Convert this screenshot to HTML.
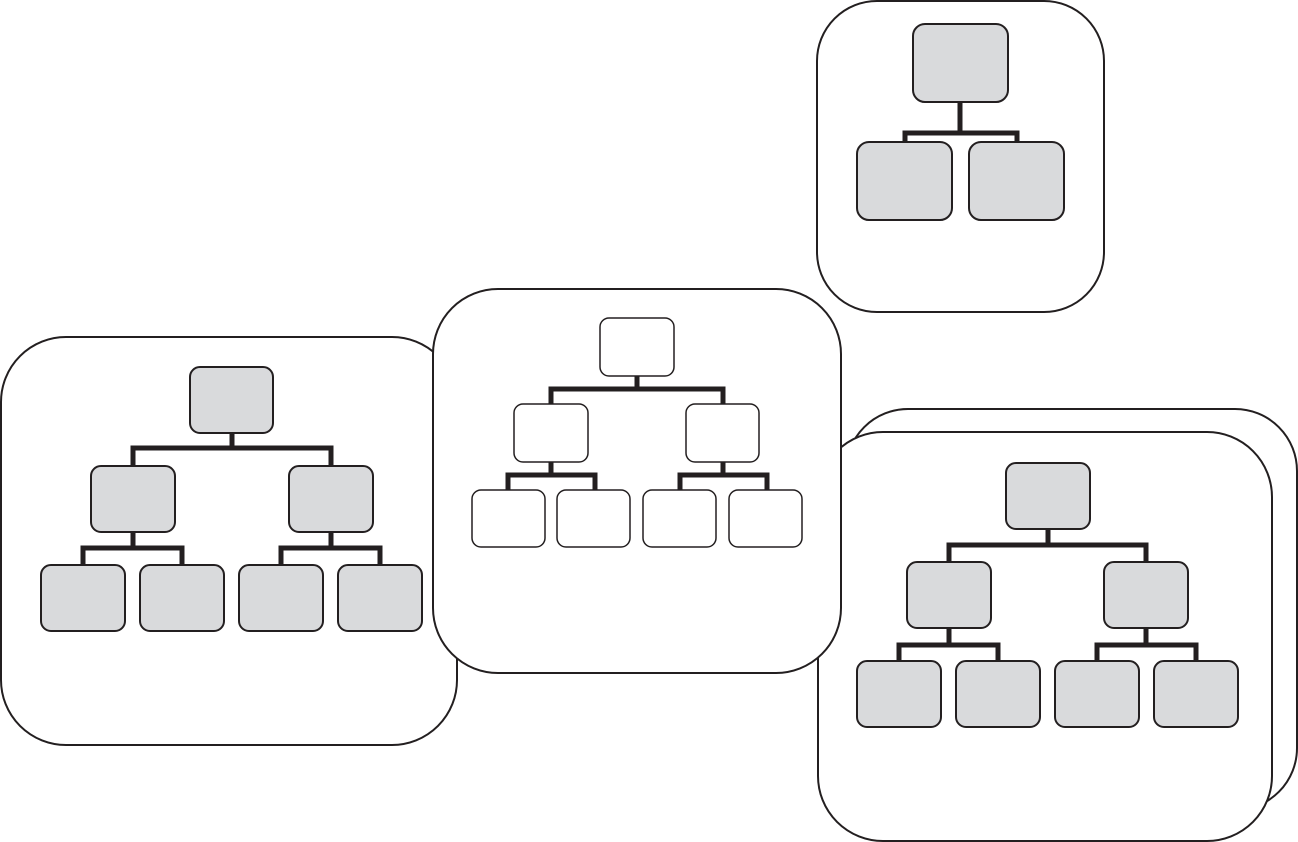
<!DOCTYPE html>
<html><head><meta charset="utf-8"><style>html,body{margin:0;padding:0;background:#fff}svg{display:block}</style></head>
<body>
<svg width="1298" height="842" viewBox="0 0 1298 842" xmlns="http://www.w3.org/2000/svg">
<g fill="#fff" stroke="#231f20" stroke-width="2">
<rect x="1" y="337" width="456" height="408" rx="65"/>
<rect x="846" y="409" width="451" height="401" rx="62"/>
<rect x="818" y="432" width="454" height="409" rx="65"/>
<rect x="817" y="1" width="287" height="311" rx="60"/>
<rect x="433" y="289" width="408" height="384" rx="65"/>
</g>
<g fill="none" stroke="#231f20" stroke-width="5">
<!-- left -->
<path d="M232 433V448M133 466V448H331V466M133 532V548M83 566V548H182V566M331 532V548M281 566V548H380V566"/>
<!-- middle -->
<path d="M637 376V389M551 404V389H723V404M551 462V475M508 490V475H595V490M723 462V475M680 490V475H767V490"/>
<!-- right -->
<path d="M1048 529V545M949 562V545H1146V562M949 628V645M899 661V645H998V661M1146 628V645M1097 661V645H1196V661"/>
<!-- top -->
<path d="M960 102V133M905 142V133H1017V142"/>
</g>
<g fill="#d9dadc" stroke="#231f20" stroke-width="2">
<rect x="190" y="367" width="83" height="66" rx="10"/>
<rect x="91" y="466" width="84" height="66" rx="10"/>
<rect x="289" y="466" width="84" height="66" rx="10"/>
<rect x="41" y="565" width="84" height="66" rx="10"/>
<rect x="140" y="565" width="84" height="66" rx="10"/>
<rect x="239" y="565" width="84" height="66" rx="10"/>
<rect x="338" y="565" width="84" height="66" rx="10"/>
<rect x="1006" y="463" width="84" height="66" rx="10"/>
<rect x="907" y="562" width="84" height="66" rx="10"/>
<rect x="1104" y="562" width="84" height="66" rx="10"/>
<rect x="857" y="661" width="84" height="66" rx="10"/>
<rect x="956" y="661" width="84" height="66" rx="10"/>
<rect x="1055" y="661" width="84" height="66" rx="10"/>
<rect x="1154" y="661" width="84" height="66" rx="10"/>
<rect x="913" y="24" width="95" height="78" rx="12"/>
<rect x="857" y="142" width="95" height="78" rx="12"/>
<rect x="969" y="142" width="95" height="78" rx="12"/>
</g>
<g fill="#fff" stroke="#231f20" stroke-width="1.5">
<rect x="600" y="318" width="74" height="58" rx="9"/>
<rect x="514" y="404" width="74" height="58" rx="9"/>
<rect x="686" y="404" width="73" height="58" rx="9"/>
<rect x="472" y="490" width="73" height="57" rx="9"/>
<rect x="557" y="490" width="73" height="57" rx="9"/>
<rect x="643" y="490" width="73" height="57" rx="9"/>
<rect x="729" y="490" width="73" height="57" rx="9"/>
</g>
</svg>
</body></html>
